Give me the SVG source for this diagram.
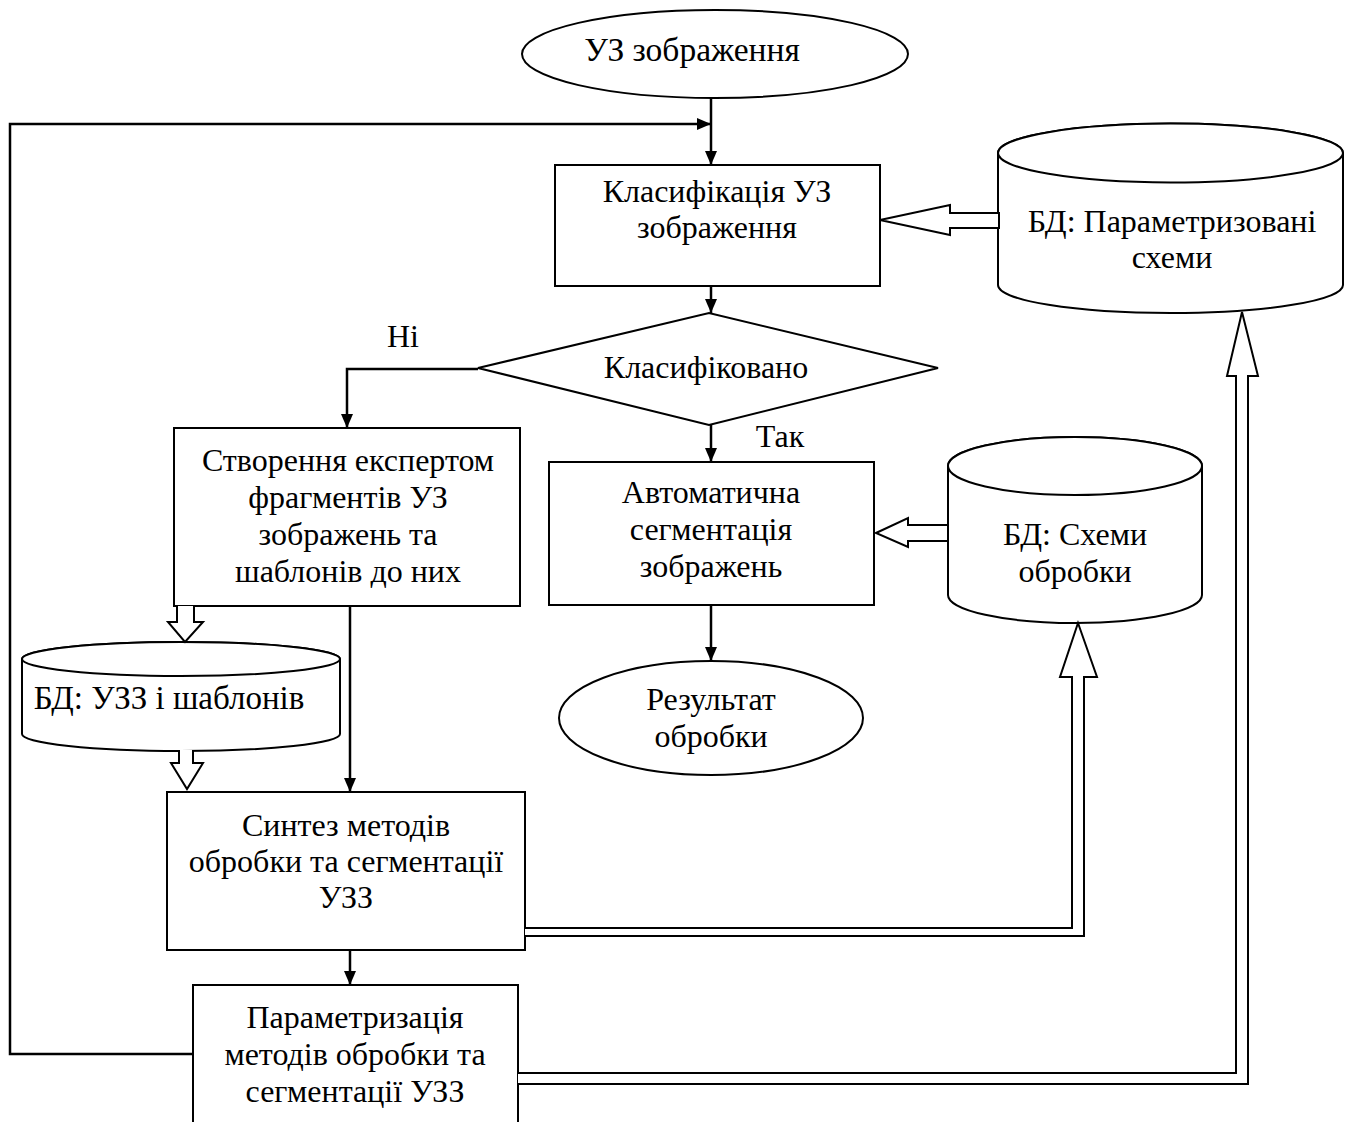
<svg xmlns="http://www.w3.org/2000/svg" width="1355" height="1122" viewBox="0 0 1355 1122">
<defs>
<style>
.n{fill:#fff;stroke:#000;stroke-width:2}
.t{font-family:"Liberation Serif","Times New Roman",serif;font-size:32px;fill:#000;text-anchor:middle}
.c{fill:none;stroke:#000;stroke-width:2.5}
.h{fill:#fff;stroke:#000;stroke-width:2;stroke-linejoin:miter}
</style>
<marker id="a" viewBox="0 0 14 12" refX="14" refY="6" markerWidth="14" markerHeight="12" markerUnits="userSpaceOnUse" orient="auto">
<path d="M0,0 L14,6 L0,12 Z" fill="#000"/>
</marker>
</defs>
<rect width="1355" height="1122" fill="#fff"/>

<g id="start">
<ellipse class="n" cx="715" cy="54" rx="193" ry="44"/>
<text class="t" x="692" y="61" style="font-size:33.5px">УЗ зображення</text>
</g>

<g id="classify">
<rect class="n" x="555" y="165" width="325" height="121"/>
<text class="t" x="717" y="202">Класифікація УЗ</text>
<text class="t" x="717" y="238">зображення</text>
</g>

<g id="db-param">
<path class="n" d="M998,153 A172.5,29.5 0 0 1 1343,153 L1343,285 A172.5,28 0 0 1 998,285 Z"/>
<ellipse class="n" cx="1170.5" cy="153" rx="172.5" ry="29.5"/>
<text class="t" x="1172" y="232">БД: Параметризовані</text>
<text class="t" x="1172" y="268">схеми</text>
</g>

<g id="decision">
<polygon class="n" points="478,368 709,313 938,368 709,425"/>
<text class="t" x="706" y="378">Класифіковано</text>
</g>

<g id="expert">
<rect class="n" x="174" y="428" width="346" height="178"/>
<text class="t" x="348" y="471">Створення експертом</text>
<text class="t" x="348" y="508">фрагментів УЗ</text>
<text class="t" x="348" y="545">зображень та</text>
<text class="t" x="348" y="582">шаблонів до них</text>
</g>

<g id="auto">
<rect class="n" x="549" y="462" width="325" height="143"/>
<text class="t" x="711" y="503">Автоматична</text>
<text class="t" x="711" y="540">сегментація</text>
<text class="t" x="711" y="577">зображень</text>
</g>

<g id="db-schemes">
<path class="n" d="M948,466 A127,29 0 0 1 1202,466 L1202,595 A127,28 0 0 1 948,595 Z"/>
<ellipse class="n" cx="1075" cy="466" rx="127" ry="29"/>
<text class="t" x="1075" y="545">БД: Схеми</text>
<text class="t" x="1075" y="582">обробки</text>
</g>

<g id="db-templates">
<path class="n" d="M22,659 A159,17 0 0 1 340,659 L340,734 A159,17 0 0 1 22,734 Z"/>
<ellipse class="n" cx="181" cy="659" rx="159" ry="17"/>
<text class="t" x="169" y="709" style="font-size:33px">БД: УЗЗ і шаблонів</text>
</g>

<g id="result">
<ellipse class="n" cx="711" cy="718" rx="152" ry="57"/>
<text class="t" x="711" y="710">Результат</text>
<text class="t" x="711" y="747">обробки</text>
</g>

<g id="synth">
<rect class="n" x="167" y="792" width="358" height="158"/>
<text class="t" x="346" y="836">Синтез методів</text>
<text class="t" x="346" y="872">обробки та сегментації</text>
<text class="t" x="346" y="908">УЗЗ</text>
</g>

<g id="paramz">
<rect class="n" x="193" y="985" width="325" height="160"/>
<text class="t" x="355" y="1028">Параметризація</text>
<text class="t" x="355" y="1065">методів обробки та</text>
<text class="t" x="355" y="1102">сегментації УЗЗ</text>
</g>

<g id="labels">
<text class="t" x="403" y="347">Ні</text>
<text class="t" x="780" y="447">Так</text>
</g>

<g id="connectors">
<line class="c" x1="711" y1="98" x2="711" y2="165" marker-end="url(#a)"/>
<polyline class="c" points="193,1054 10,1054 10,124 711,124" marker-end="url(#a)"/>
<line class="c" x1="711" y1="286" x2="711" y2="313" marker-end="url(#a)"/>
<polyline class="c" points="478,369 347,369 347,428" marker-end="url(#a)"/>
<line class="c" x1="711" y1="425" x2="711" y2="462" marker-end="url(#a)"/>
<line class="c" x1="711" y1="605" x2="711" y2="661" marker-end="url(#a)"/>
<line class="c" x1="350" y1="606" x2="350" y2="792" marker-end="url(#a)"/>
<line class="c" x1="350" y1="950" x2="350" y2="985" marker-end="url(#a)"/>
<polygon class="h" points="880,220 950,205 950,213 999,213 999,228 950,228 950,235"/>
<polygon class="h" points="876,533 908,518 908,525 948,525 948,541 908,541 908,547"/>
<polyline class="h" points="177,606 177,622 168,622 185,642 203,622 194,622 194,606"/>
<polyline class="h" points="179,750 179,763 171,763 187,789 203,763 193,763 193,750"/>
<polyline class="h" points="525,928 1072,928 1072,677 1060,677 1078,623 1097,677 1084,677 1084,936 525,936"/>
<polyline class="h" points="518,1073 1236,1073 1236,376 1227,376 1242,312 1258,376 1248,376 1248,1084 518,1084"/>
</g>
</svg>
